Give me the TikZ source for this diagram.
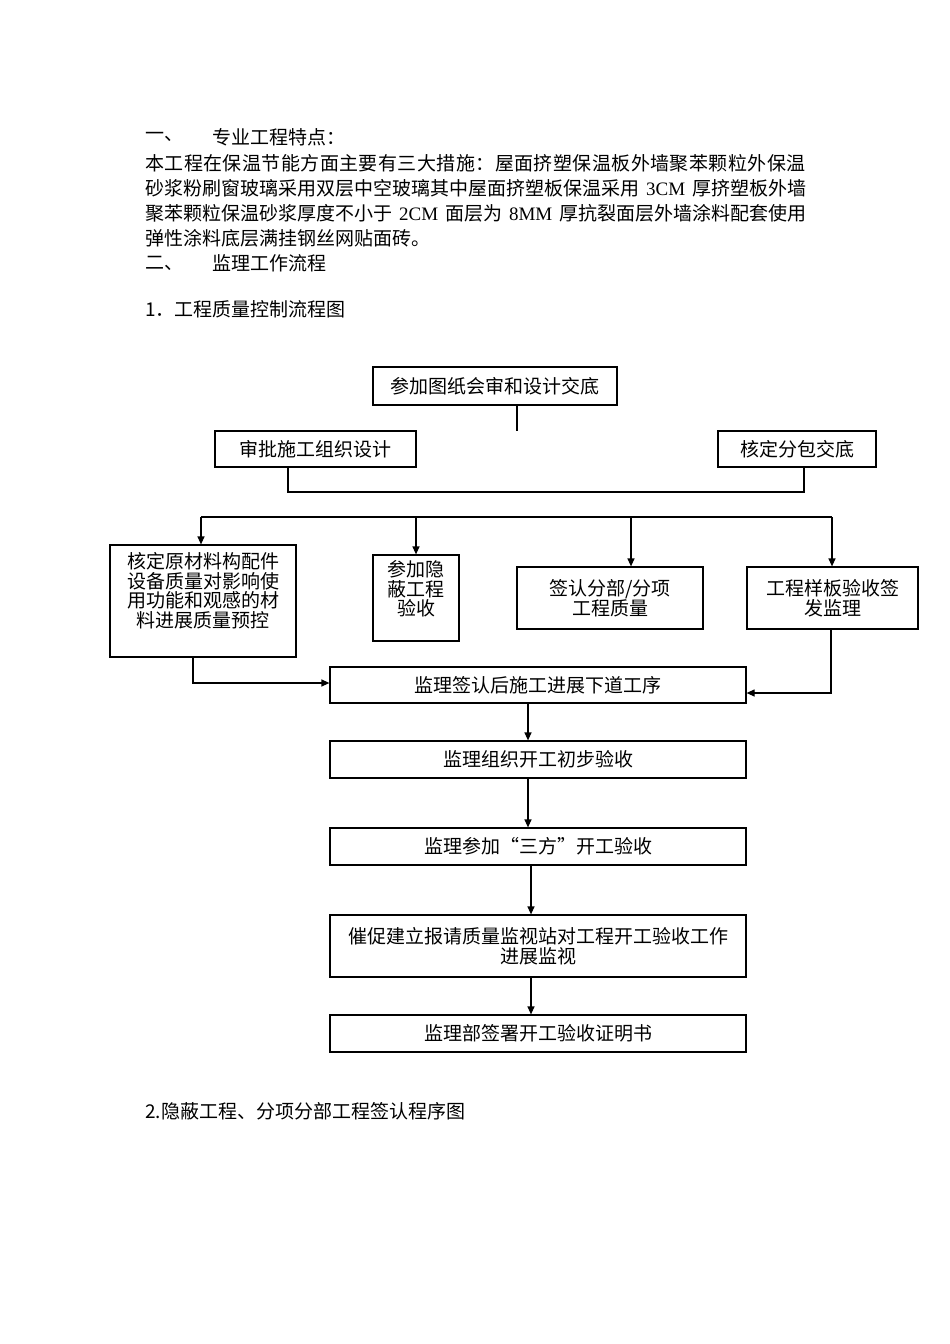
\documentclass[tikz,border=0pt]{standalone}
\usepackage{fontspec}
\setmainfont{Noto Sans CJK SC}
\newfontfamily\lat{Liberation Serif}
\usetikzlibrary{arrows.meta}
\begin{document}
\begin{tikzpicture}[x=1pt,y=-1pt,
  every node/.style={font=\fontsize{19pt}{19.5pt}\selectfont, text=black},
  txt/.style={anchor=west, inner sep=0pt},
  box/.style={draw, line width=1.2pt, inner sep=0pt, align=center},
  con/.style={line width=1.2pt},
  arr/.style={line width=1.2pt, -{Triangle[length=8pt,width=7pt]}}]
\fill[white] (0,0) rectangle (950,1344);
\useasboundingbox (0,0) rectangle (950,1344);
% body text
\node[txt] (h1a) at (145,137) {一、};
\node[txt] (h1b) at (212,137) {专业工程特点：};
\node[txt] (l2) at (145,163) {\addfontfeature{LetterSpace=2.3}本工程在保温节能方面主要有三大措施：屋面挤塑保温板外墙聚苯颗粒外保温};
\node[txt] (l3) at (145,188) {\hbox to 661pt{砂浆粉刷窗玻璃采用双层中空玻璃其中屋面挤塑板保温采用 {\lat 3CM} 厚挤塑板外墙}};
\node[txt] (l4) at (145,213) {\hbox to 661pt{聚苯颗粒保温砂浆厚度不小于 {\lat 2CM} 面层为 {\lat 8MM} 厚抗裂面层外墙涂料配套使用}};
\node[txt] (l5) at (145,238) {弹性涂料底层满挂钢丝网贴面砖。};
\node[txt] (h2a) at (145,263) {二、};
\node[txt] (h2b) at (212,263) {监理工作流程};
\node[txt] (h3) at (145,309) {1．工程质量控制流程图};
\node[txt] (h4) at (145,1111) {2.隐蔽工程、分项分部工程签认程序图};
% boxes
\node[box, minimum width=244pt, minimum height=38pt] (a) at (495,386) {参加图纸会审和设计交底};
\node[box, minimum width=201pt, minimum height=36pt] (b) at (315.5,449) {审批施工组织设计};
\node[box, minimum width=158pt, minimum height=36pt] (c) at (797,449) {核定分包交底};
\node[box, minimum width=186pt, minimum height=112pt] (b1) at (203,601) {核定原材料构配件\\设备质量对影响使\\用功能和观感的材\\料进展质量预控\\\rule[-3pt]{0pt}{0pt}};
\node[box, minimum width=86pt, minimum height=86pt] (b2) at (416,598) {参加隐\\蔽工程\\验收\\\rule[-0pt]{0pt}{0pt}};
\node[box, minimum width=186pt, minimum height=62pt] (b3) at (610,598) {签认分部/分项\\工程质量};
\node[box, minimum width=171pt, minimum height=62pt] (b4) at (832.5,598) {工程样板验收签\\发监理};
\node[box, minimum width=416pt, minimum height=36pt] (cc) at (538,685) {监理签认后施工进展下道工序};
\node[box, minimum width=416pt, minimum height=37pt] (d) at (538,759.5) {监理组织开工初步验收};
\node[box, minimum width=416pt, minimum height=37pt] (e) at (538,846.5) {监理参加“三方”开工验收};
\node[box, minimum width=416pt, minimum height=62pt] (f) at (538,946) {催促建立报请质量监视站对工程开工验收工作\\进展监视};
\node[box, minimum width=416pt, minimum height=37pt] (g) at (538,1033.5) {监理部签署开工验收证明书};
% connector helper points
\coordinate (j1) at (517,431);
\coordinate (k1) at (288,492);
\coordinate (k2) at (804,492);
\coordinate (d0) at (201,517);
\coordinate (d1) at (416,517);
\coordinate (d2) at (631,517);
\coordinate (d3) at (832,517);
\coordinate (e1) at (193,683);
\coordinate (e2) at (831,693);
\coordinate (f1) at (528,720);
\coordinate (f2) at (531,900);
% connectors
\draw[con] (a.south -| j1) -- (j1);
\draw[con] (b.south -| k1) -- (k1) -- (k2) -- (c.south -| k2);
\draw[con] (d0) -- (d3);
\draw[arr] (d0) -- (b1.north -| d0);
\draw[arr] (d1) -- (b2.north -| d1);
\draw[arr] (d2) -- (b3.north -| d2);
\draw[arr] (d3) -- (b4.north -| d3);
\draw[arr] (b1.south -| e1) -- (e1) -- (cc.west |- e1);
\draw[arr] (b4.south -| e2) -- (e2) -- (cc.east |- e2);
\draw[arr] (cc.south -| f1) -- (d.north -| f1);
\draw[arr] (d.south -| f1) -- (e.north -| f1);
\draw[arr] (e.south -| f2) -- (f.north -| f2);
\draw[arr] (f.south -| f2) -- (g.north -| f2);
\end{tikzpicture}
\end{document}
